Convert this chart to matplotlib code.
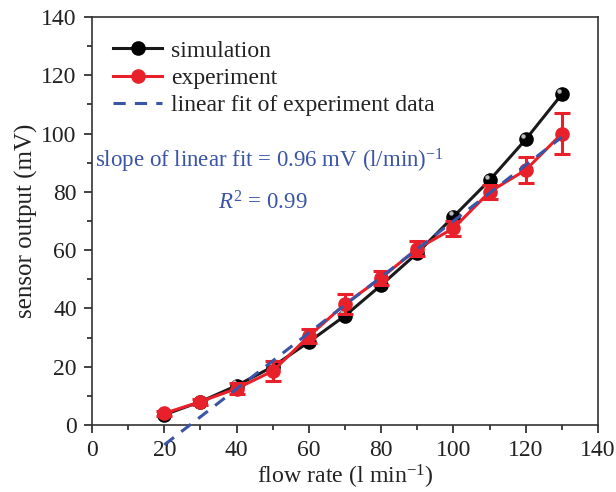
import matplotlib
matplotlib.use("Agg")
import matplotlib.pyplot as plt
import numpy as np
from matplotlib.ticker import MultipleLocator
from matplotlib.lines import Line2D

plt.rcParams['font.family'] = ['Liberation Serif', 'DejaVu Serif']
plt.rcParams['mathtext.fontset'] = 'custom'
plt.rcParams['mathtext.rm'] = 'Liberation Serif'
plt.rcParams['mathtext.it'] = 'Liberation Serif:italic'

flow = [20, 30, 40, 50, 60, 70, 80, 90, 100, 110, 120, 130]
simulation = [3.5, 8, 13.5, 20, 28.5, 37.5, 48, 59, 71.5, 84, 98, 113.5]
experiment = [4, 8, 12.5, 18.5, 30.5, 41.5, 50.5, 60.5, 67.5, 80, 87.5, 100]
exp_err = [0.8, 1.0, 2.0, 3.5, 2.5, 3.5, 2.5, 2.5, 2.5, 2.5, 4.3, 7]
fit_slope = 0.96
fit_intercept = -26.0
fit_range = [20, 130]

RED = '#e8202a'
BLUE = '#3a55a6'
TXT = '#222222'

fig = plt.figure(figsize=(6.16, 4.92), dpi=100)
ax = fig.add_axes([0.1494, 0.1362, 0.8214, 0.8292])

fx = np.array(fit_range, dtype=float)
ax.plot(fx, fit_slope * fx + fit_intercept, ls=(0, (4, 3)), color=BLUE, lw=2.2,
        zorder=5, clip_on=False)

ax.plot(flow, simulation, '-', color='#1a1a1a', lw=2.2, marker='o', ms=9.5,
        mfc='black', mec='black', zorder=3)
# highlight for sphere look
ax.plot(np.array(flow) - 0.8, np.array(simulation) + 1.2, 'o', ms=3.2,
        color='#bbbbbb', mec='none', zorder=3.5)

ax.errorbar(flow, experiment, yerr=exp_err, fmt='-o', color=RED, lw=2.2,
            ms=9.5, mfc=RED, mec=RED, ecolor=RED, elinewidth=2.2, capsize=6,
            capthick=2.2, zorder=4)

ax.set_xlim(0, 140)
ax.set_ylim(0, 140)
ax.xaxis.set_major_locator(MultipleLocator(20))
ax.xaxis.set_minor_locator(MultipleLocator(10))
ax.yaxis.set_major_locator(MultipleLocator(20))
ax.yaxis.set_minor_locator(MultipleLocator(10))
ax.tick_params(which='both', direction='out', labelsize=17, colors=TXT,
               top=False, right=False)
ax.tick_params(which='major', length=6, width=1.2, pad=5)
ax.tick_params(which='minor', length=3.5, width=1.2)
for s in ax.spines.values():
    s.set_linewidth(1.2)
    s.set_color('#333333')

ax.set_xlabel('flow rate (l min$^{-1}$)', fontsize=17.2, color=TXT, labelpad=1)
ax.set_ylabel('sensor output (mV)', fontsize=18, color=TXT, labelpad=2)

handles = [
    Line2D([], [], color='#1a1a1a', lw=2.2, marker='o', ms=9.5, mfc='black', mec='black'),
    Line2D([], [], color=RED, lw=2.2, marker='o', ms=9.5, mfc=RED, mec=RED),
    Line2D([], [], color=BLUE, lw=2.2, ls=(0, (4, 3))),
]
labels = ['simulation', 'experiment', 'linear fit of experiment data']
leg = ax.legend(handles, labels, loc='upper left', bbox_to_anchor=(0.005, 0.99),
                frameon=False, fontsize=17, handlelength=2.05, borderaxespad=0.4,
                labelspacing=0.25, handletextpad=0.4)
for t in leg.get_texts():
    t.set_color(TXT)

ax.text(0.35, 0.647, 'slope of linear fit = 0.96 mV (l/min)$^{-1}$', transform=ax.transAxes,
        ha='center', va='center', fontsize=16.5, color=BLUE)
ax.text(0.338, 0.544, '$R^{2}$ = 0.99', transform=ax.transAxes,
        ha='center', va='center', fontsize=16.5, color=BLUE)

fig.savefig('out.png', dpi=100)
